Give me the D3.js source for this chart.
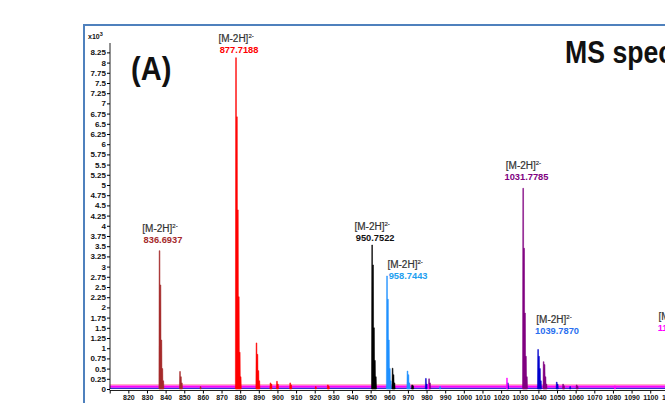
<!DOCTYPE html>
<html>
<head>
<meta charset="utf-8">
<script src="https://cdn.jsdelivr.net/npm/d3@7"></script>
<style>
  body { margin: 0; background: #fff; }
  svg { display: block; }
</style>
</head>
<body>
<script>
// peak lists, intensity in counts x10^3
var brownMz  = [836.69, 837.19, 837.69, 838.19, 838.69, 847.68, 848.18, 848.68, 858.7];
var brownInt = [3.39, 2.55, 1.2, 0.5, 0.2, 0.43, 0.3, 0.15, 0.06];

var redMz  = [877.72, 878.22, 878.72, 879.22, 879.72, 880.22, 888.71, 889.21, 889.71, 890.21, 896.2, 896.7, 899.7, 900.2, 906.8, 907.3, 920.5, 927.0, 927.5];
var redInt = [8.12, 6.67, 4.39, 2.26, 0.9, 0.3, 1.13, 0.85, 0.45, 0.2, 0.15, 0.12, 0.19, 0.12, 0.15, 0.1, 0.06, 0.1, 0.07];

var blackMz  = [950.75, 951.25, 951.75, 952.25, 952.75, 961.74, 962.24, 962.74, 972.2, 972.7];
var blackInt = [3.53, 3.04, 1.5, 0.7, 0.3, 0.51, 0.35, 0.15, 0.1, 0.08];

var skyMz  = [958.74, 959.24, 959.74, 960.24, 960.74, 969.73, 970.23, 970.73, 987.2];
var skyInt = [2.77, 2.2, 1.2, 0.5, 0.2, 0.44, 0.35, 0.15, 0.06];

var purpleMz  = [1031.78, 1032.28, 1032.78, 1033.28, 1033.78, 981.3, 981.8, 1042.77, 1043.27, 1043.77, 1044.27, 1053.2, 1053.7, 1060.5, 1061.0];
var purpleInt = [4.92, 3.45, 1.86, 0.8, 0.3, 0.25, 0.15, 0.67, 0.6, 0.3, 0.12, 0.12, 0.08, 0.1, 0.07];

var blueMz  = [1039.79, 1040.29, 1040.79, 1041.29, 979.6, 980.1, 1023.6, 1049.8, 1050.3, 1057.0];
var blueInt = [0.97, 0.8, 0.5, 0.2, 0.26, 0.12, 0.15, 0.17, 0.12, 0.06];

var magentaMz  = [1023.1, 980.9, 1081.0];
var magentaInt = [0.27, 0.12, 0.08];

// baseline levels of the traces
var baseRed = 0.1, baseMagenta = 0.06, baseBlue = 0.015;

// annotations: label centre m/z, number baseline intensity
var labelText = ["836.6937", "877.7188", "950.7522", "958.7443", "1031.7785", "1039.7870", "1112.7937"];
var labelMz   = [838.6, 879.4, 952.4, 970.1, 1033.6, 1050.0, 1115.5];
var labelInt  = [3.58, 8.24, 3.63, 2.70, 5.13, 1.34, 1.41];
var labelColor = ["#a52a2a", "#ff0000", "#111111", "#1ea0f0", "#800080", "#2a6ff0", "#ff00ff"];

var yTicks = d3.range(0, 8.26, 0.25);
var xTicks = d3.range(810, 1121, 10);

var W = 665, H = 403;
var svg = d3.select("body").append("svg").attr("width", W).attr("height", H);

var x = d3.scaleLinear().domain([810, 1120]).range([109.7, 687.5]);
var y = d3.scaleLinear().domain([0, 8.48]).range([389, 43]);

var sans = "Liberation Sans, Arial, sans-serif";

// frame
svg.append("path")
  .attr("d", "M84," + H + "V25H" + W)
  .attr("fill", "none")
  .attr("stroke", "#4f81bd")
  .attr("stroke-width", 2);

// baselines
function baseLine(level, color, width) {
  svg.append("line")
    .attr("x1", x(810)).attr("x2", W)
    .attr("y1", y(level)).attr("y2", y(level))
    .attr("stroke", color).attr("stroke-width", width);
}
baseLine(baseRed, "#ff7a9a", 1);
baseLine(baseMagenta, "#ff00ff", 2.2);
baseLine(baseBlue, "#3a2ad0", 1.2);

// spikes
function spikes(mz, inten, color) {
  var p = d3.path();
  mz.forEach(function (m, i) {
    p.moveTo(x(m - 0.3), y(0));
    p.lineTo(x(m - 0.15), y(inten[i]));
    p.lineTo(x(m + 0.25), y(inten[i]));
    p.lineTo(x(m + 0.4), y(0));
    p.closePath();
  });
  svg.append("path").attr("d", p.toString()).attr("fill", color).attr("stroke", color).attr("stroke-width", 0.5);
}
spikes(brownMz, brownInt, "#a52a2a");
spikes(redMz, redInt, "#ff0000");
spikes(skyMz, skyInt, "#1e90ff");
spikes(blackMz, blackInt, "#000000");
spikes(purpleMz, purpleInt, "#800080");
spikes(blueMz, blueInt, "#0000cd");
spikes(magentaMz, magentaInt, "#ff00ff");

// axes
var yAxis = d3.axisLeft(y).tickValues(yTicks).tickSize(3).tickPadding(1)
  .tickFormat(d3.format("~g"));
var gy = svg.append("g").attr("transform", "translate(110,0)").call(yAxis);
gy.select(".domain").attr("d", "M0," + y(0) + "V43").attr("stroke", "#222");
gy.selectAll("text").attr("font-family", sans)
  .attr("font-weight", "bold").attr("font-size", 8).attr("fill", "#111");

var xAxis = d3.axisBottom(x).tickValues(xTicks).tickSize(3).tickPadding(2)
  .tickFormat(function (d) { return d === 810 ? "" : d; });
var gx = svg.append("g").attr("transform", "translate(0," + (y(0) + 1.5) + ")").call(xAxis);
gx.select(".domain").attr("d", "M" + x(810) + ",0H" + W).attr("stroke", "#222");
gx.selectAll("text").attr("font-family", sans)
  .attr("font-weight", "bold").attr("font-size", 7).attr("fill", "#111");

// x10^3
var mult = svg.append("text").attr("x", 88).attr("y", 39)
  .attr("font-family", sans).attr("font-weight", "bold")
  .attr("font-size", 7).attr("fill", "#111");
mult.append("tspan").text("x10");
mult.append("tspan").attr("dy", -3).attr("font-size", 5.5).text("3");

// peak labels
labelText.forEach(function (t, i) {
  var cx = x(labelMz[i]), by = y(labelInt[i]);
  var ion = svg.append("text").attr("x", cx - 3).attr("y", by - 11)
    .attr("text-anchor", "middle")
    .attr("font-family", sans)
    .attr("font-size", 10).attr("fill", "#333")
    .attr("stroke", "#333").attr("stroke-width", 0.2);
  ion.append("tspan").text("[M-2H]");
  ion.append("tspan").attr("dy", -4).attr("font-size", 6).text("2-");
  svg.append("text").attr("x", cx).attr("y", by)
    .attr("text-anchor", "middle")
    .attr("font-family", sans)
    .attr("font-weight", "bold").attr("font-size", 9.3)
    .attr("fill", labelColor[i]).text(t);
});

// panel letter and title (condensed bold)
svg.append("text").attr("transform", "translate(131,80) scale(0.88,1)")
  .attr("font-family", sans)
  .attr("font-weight", "bold").attr("font-size", 33).attr("fill", "#111").text("(A)");
svg.append("text").attr("transform", "translate(565,63) scale(0.86,1)")
  .attr("font-family", sans)
  .attr("font-weight", "bold").attr("font-size", 31).attr("fill", "#111").text("MS spectra");
</script>
</body>
</html>
